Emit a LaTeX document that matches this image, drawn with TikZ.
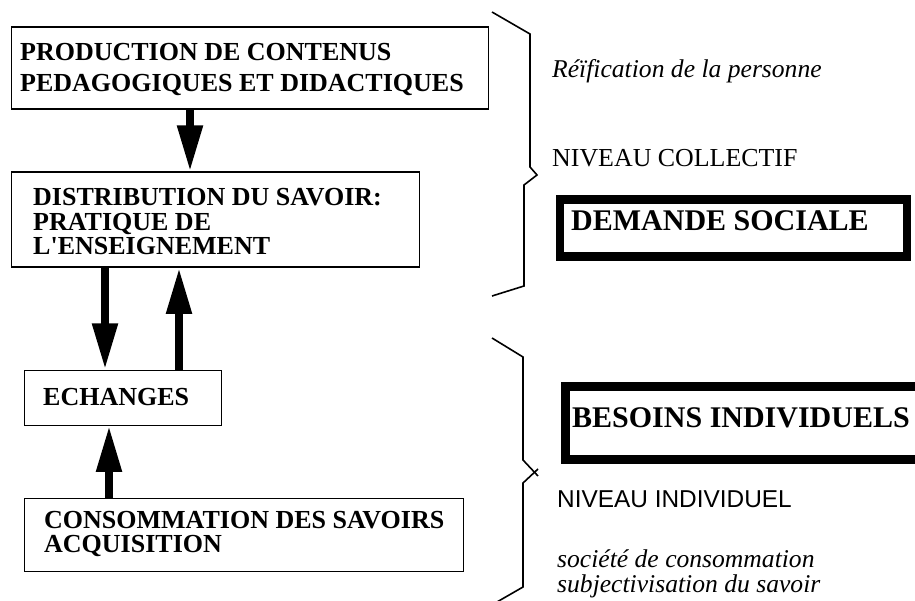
\documentclass[tikz,border=0pt]{standalone}
\usepackage{fontspec}
\setmainfont{Liberation Serif}
\newfontfamily\labelsans{Liberation Sans}
\usetikzlibrary{arrows.meta}
\begin{document}
\begin{tikzpicture}[x=1pt,y=-1pt,
  box/.style={draw,line width=1.3pt,rectangle,inner sep=0pt,anchor=north west},
  heavybox/.style={draw,line width=8.5pt,rectangle,inner sep=0pt,anchor=north west},
  boxtext/.style={anchor=base west,inner sep=0pt,font=\fontsize{26}{26}\selectfont\bfseries},
  bigtext/.style={anchor=base west,inner sep=0pt,font=\fontsize{30}{30}\selectfont\bfseries},
  note/.style={anchor=base west,inner sep=0pt},
  italnote/.style={note,font=\fontsize{25.6}{25.6}\selectfont\itshape},
  flow/.style={line width=8pt,-{Triangle[width=24pt,length=46pt]}},
  brace/.style={line width=1.6pt,line join=miter}]
\useasboundingbox (0,0) rectangle (915,601);
\clip (0,0) rectangle (915,601);

% flow boxes (left column)
\node[box,minimum width=477pt,minimum height=82pt] (prod) at (10.5,26.5) {};
\node[box,minimum width=408pt,minimum height=95pt] (dist) at (10.5,171.5) {};
\node[box,minimum width=197pt,minimum height=55pt] (ech) at (23.5,369.5) {};
\node[box,minimum width=439pt,minimum height=73pt] (cons) at (23.5,497.5) {};

\node[boxtext] (prod1) at (20,61) {PRODUCTION DE CONTENUS};
\node[boxtext] (prod2) at (20,92) {PEDAGOGIQUES ET DIDACTIQUES};
\node[boxtext] (dist1) at (33,206) {DISTRIBUTION DU SAVOIR:};
\node[boxtext] (dist2) at (33,230.5) {PRATIQUE DE};
\node[boxtext] (dist3) at (33,255) {L\textquotesingle ENSEIGNEMENT};
\node[boxtext] (ech1) at (43,405.5) {ECHANGES};
\node[boxtext] (cons1) at (44,528) {CONSOMMATION DES SAVOIRS};
\node[boxtext] (cons2) at (44,552) {ACQUISITION};

% flow arrows
\draw[flow] ([xshift=179.5pt]prod.south west) -- ([xshift=179.5pt]dist.north west);
\draw[flow] ([xshift=94.5pt]dist.south west) -- ([xshift=81.5pt]ech.north west);
\draw[flow] ([xshift=155.5pt]ech.north west) -- ([xshift=168.5pt]dist.south west);
\draw[flow] ([xshift=85.5pt]cons.north west) -- ([xshift=85.5pt]ech.south west);

% braces
\draw[brace] (492,12) -- (530,34) -- (530,167) -- (537,175) -- (524,185) -- (524,286) -- (492,296);
\draw[brace] (492,338) -- (523,357) -- (523,460) -- (538,476);
\draw[brace] (538,469) -- (523,483) -- (523,587) -- (490,606);

% right column: collective level
\node[italnote] (reif) at (552,78) {Réïfication de la personne};
\node[note,font=\fontsize{25.9}{25.9}\selectfont] (coll) at (552,167) {NIVEAU COLLECTIF};
\node[heavybox,minimum width=347pt,minimum height=57pt] (dem) at (555.5,195.5) {};
\node[bigtext] (demt) at (571,231) {DEMANDE SOCIALE};

% right column: individual level
\node[heavybox,minimum width=380pt,minimum height=73pt] (bes) at (561,382) {};
\node[bigtext] (best) at (572,427) {BESOINS INDIVIDUELS};
\node[note,font=\labelsans\fontsize{24.4}{24.4}\selectfont] (indiv) at (557,507) {NIVEAU INDIVIDUEL};
\node[italnote] (soc1) at (557,567) {société de consommation};
\node[italnote] (soc2) at (557,592) {subjectivisation du savoir};
\end{tikzpicture}
\end{document}
